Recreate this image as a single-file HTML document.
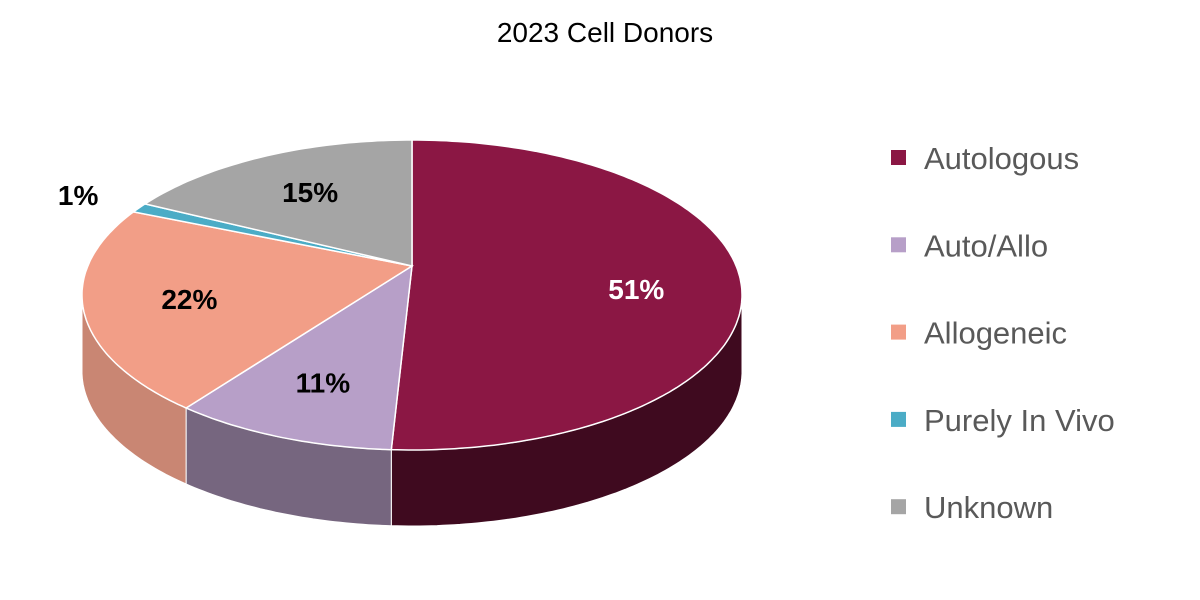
<!DOCTYPE html>
<html><head><meta charset="utf-8"><style>
html,body{margin:0;padding:0;background:#fff;width:1200px;height:600px;overflow:hidden}
svg{display:block;font-family:"Liberation Sans",Calibri,sans-serif}
</style></head><body>
<svg id="chart" width="1200" height="600" viewBox="0 0 1200 600">
<text x="605" y="42" text-anchor="middle" font-size="28" fill="#000">2023 Cell Donors</text>
<g id="sides"></g>
<g id="tops"></g>
<g id="labels"></g>
<g id="legend"></g>
</svg>
<script>
const categories = ["Autologous","Auto/Allo","Allogeneic","Purely In Vivo","Unknown"];
const values = [51,11,22,1,15];
const valueLabels = ["51%","11%","22%","1%","15%"];
const colors = ["#8B1744","#B79FC8","#F29E87","#4BACC6","#A5A5A5"];
const sideColors = ["#3f0a1f","#76667f","#c98673","#2d7a8c","#6e6e6e"];
const NS="http://www.w3.org/2000/svg";
const cx=412, cy=295, rx=330, ry=155, apx=412, apy=266, depth=76;
function pt(a){const r=a*Math.PI/180;return [cx+rx*Math.sin(r), cy-ry*Math.cos(r)];}
function arc(a0,a1,dy){let s="";const n=Math.max(2,Math.ceil(Math.abs(a1-a0)));for(let i=0;i<=n;i++){const p=pt(a0+(a1-a0)*i/n);s+=(p[0].toFixed(1))+","+((p[1]+dy).toFixed(1))+" ";}return s;}
const total=values.reduce((a,b)=>a+b,0);
const sides=document.getElementById("sides"),tops=document.getElementById("tops"),labels=document.getElementById("labels"),legend=document.getElementById("legend");
let a=0;
values.forEach((v,i)=>{
  const a0=a,a1=a+v/total*360;a=a1;
  const s0=Math.max(a0,90),s1=Math.min(a1,270);
  if(s1>s0){
    const p=document.createElementNS(NS,"polygon");
    const fw=arc(s0,s1,0);const bw=arc(s1,s0,depth);
    p.setAttribute("points",fw+bw);
    p.setAttribute("fill",sideColors[i]);p.setAttribute("stroke","#fff");p.setAttribute("stroke-width","1");
    
    
    sides.appendChild(p);
  }
  const t=document.createElementNS(NS,"polygon");
  t.setAttribute("points",apx+","+apy+" "+arc(a0,a1,0));
  t.setAttribute("fill",colors[i]);t.setAttribute("stroke","#fff");t.setAttribute("stroke-width","1.5");
  
  
  tops.appendChild(t);
  const m=(a0+a1)/2;const q=pt(m);
  let f=v<3?1.15:0.68;
  let lx=apx+(q[0]-apx)*f,ly=apy+(q[1]-apy)*f+10;
  if(v<3){lx-=20;ly-=4;}
  const tx=document.createElementNS(NS,"text");
  tx.setAttribute("x",lx);tx.setAttribute("y",ly);tx.setAttribute("text-anchor","middle");
  tx.setAttribute("font-size","28");tx.setAttribute("font-weight","bold");
  tx.setAttribute("fill",i===0?"#fff":"#000");tx.textContent=valueLabels[i];
  
  
  labels.appendChild(tx);
  const g=document.createElementNS(NS,"g");
  
  
  const y=158+i*87.3;
  const r=document.createElementNS(NS,"rect");
  r.setAttribute("x",891);r.setAttribute("y",y-8);r.setAttribute("width",15);r.setAttribute("height",15);r.setAttribute("fill",colors[i]);
  const lt=document.createElementNS(NS,"text");
  lt.setAttribute("x",924);lt.setAttribute("y",y+11);lt.setAttribute("font-size","31");lt.setAttribute("fill","#595959");lt.textContent=categories[i];
  g.appendChild(r);g.appendChild(lt);legend.appendChild(g);
});
</script>
</body></html>
